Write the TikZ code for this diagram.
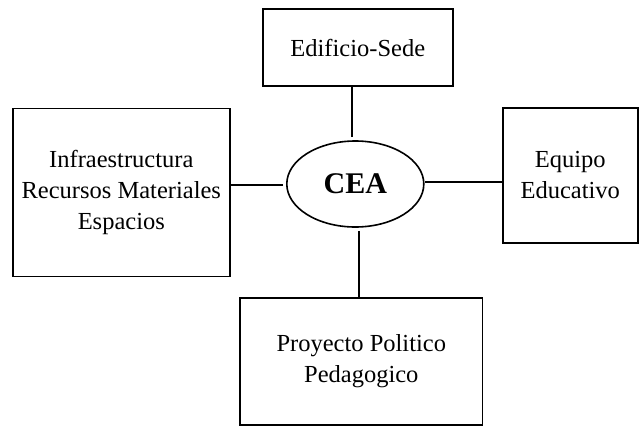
\documentclass[tikz,border=0pt]{standalone}
\usepackage{fontspec}
\setmainfont{Liberation Serif}
\usetikzlibrary{shapes.geometric}
\begin{document}
\begin{tikzpicture}[x=1pt,y=-1pt,
  box/.style={draw,line width=1.6pt,rectangle,inner sep=0pt,align=center,
    font=\fontsize{24.5}{31}\selectfont},
  conn/.style={line width=1.6pt}]
\useasboundingbox (0,0) rectangle (643,426);
\node[box,minimum width=190pt,minimum height=77pt] (top) at (357.8,47.7) {Edificio-Sede};
\node[box,minimum width=217pt,minimum height=168pt] (left) at (121.3,192.3) {Infraestructura\\Recursos Materiales\\Espacios};
\node[box,minimum width=135pt,minimum height=134.5pt] (right) at (570.3,175.5) {Equipo\\Educativo};
\node[box,minimum width=242.5pt,minimum height=127pt] (bot) at (361.3,361.2) {Proyecto Politico\\Pedagogico};
\node[draw,ellipse,line width=1.6pt,inner sep=0pt,minimum width=137pt,minimum height=86pt,
  font=\fontsize{30}{36}\selectfont\bfseries] (cea) at (355.3,184) {CEA};
\draw[conn,shorten <=3pt] ([xshift=-3.6pt]cea.north) -- ([xshift=-3.6pt]cea.north |- top.south);
\draw[conn,shorten <=3pt] ([xshift=3.6pt]cea.south) -- ([xshift=3.6pt]cea.south |- bot.north);
\draw[conn,shorten <=3pt] ([yshift=-1pt]cea.west) -- ([yshift=-1pt]cea.west -| left.east);
\draw[conn] ([yshift=2pt]cea.east) -- ([yshift=2pt]cea.east -| right.west);
\end{tikzpicture}
\end{document}
